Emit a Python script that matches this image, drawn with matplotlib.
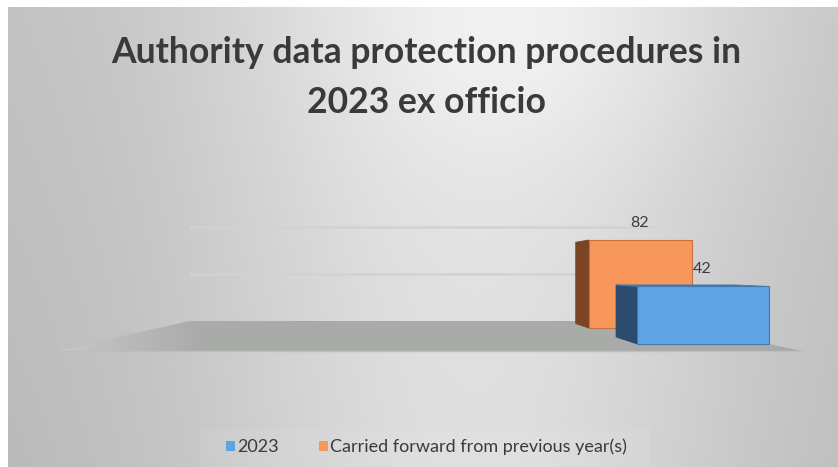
import matplotlib.pyplot as plt
import numpy as np
from matplotlib.patches import Polygon, Rectangle

TITLE = "Authority data protection procedures in\n2023 ex officio"
SERIES = ["2023", "Carried forward from previous year(s)"]
VALUES = [42, 82]
FRONT_COLORS = ["#5ea3e2", "#f7975b"]
SIDE_COLORS = ["#2b4c6f", "#7b4423"]
EDGE_COLORS = ["#3f79b0", "#c8703a"]
GRID_VALUES = [50, 100]

W, H = 838, 467

# simple perspective scene: x to the right, y up (eye level = 0), z away from viewer
FOCAL = 1000.0
CENTER_X, HORIZON_Y = 414.0, 270.0
FLOOR_Y = -0.058
VALUE_UNIT = 0.001073
BAR_X = (0.175, 0.278)
BAR_DEPTH = 0.082
SERIES_Z = [0.784, 1.0]  # front face of each series; 2023 sits in front
FLOOR_X = (-0.256, 0.278)
FLOOR_Z = (0.716, 1.137)


def project(x, y, z):
    return CENTER_X + FOCAL * x / z, HORIZON_Y - FOCAL * y / z


def level(v):
    return FLOOR_Y + v * VALUE_UNIT


def face(points, **kw):
    return Polygon([project(*p) for p in points], closed=True, **kw)


fig = plt.figure(figsize=(W / 100, H / 100), dpi=100, facecolor="white")
ax = fig.add_axes([0, 0, 1, 1])
ax.set_xlim(0, W)
ax.set_ylim(H, 0)
ax.axis("off")

# chart area background
xx, yy = np.meshgrid(np.arange(W), np.arange(H))
bg = (0.75
      + 0.15 * np.exp(-((xx - 470) / 300.0) ** 2)
      + 0.05 * np.exp(-((xx - 540) / 220.0) ** 2 - ((yy - 30) / 140.0) ** 2)
      - 0.03 * yy / H)
bg = np.clip(bg, 0, 1)
ax.imshow(np.dstack([bg * 0.995, bg, bg * 0.995]), extent=[8, W, H, 7],
          interpolation="bilinear", zorder=0)

# faint legend box
ax.add_patch(Rectangle((200, 430), 450, 40, facecolor="white", alpha=0.07,
                       edgecolor="none", zorder=1))

# gridlines on the back wall
zb = FLOOR_Z[1]
for gv in GRID_VALUES:
    x0, y0 = project(FLOOR_X[0], level(gv), zb)
    x1, y1 = project(FLOOR_X[1], level(gv), zb)
    ax.plot([x0, x1], [y0, y1], color="#d2d2d2", lw=1.8, zorder=2,
            solid_capstyle="butt")

# floor
floor = face([(FLOOR_X[0], FLOOR_Y, FLOOR_Z[0]), (FLOOR_X[1], FLOOR_Y, FLOOR_Z[0]),
              (FLOOR_X[1], FLOOR_Y, FLOOR_Z[1]), (FLOOR_X[0], FLOOR_Y, FLOOR_Z[1])],
             facecolor="none", edgecolor="none")
ax.add_patch(floor)
fx = np.linspace(0, W, 400)
fshade = 0.665 + 0.12 * np.clip((200 - fx) / 150.0, 0, 1)
fimg = np.tile(fshade, (2, 1))
im = ax.imshow(np.dstack([fimg, fimg * 1.01, fimg]).clip(0, 1),
               extent=[0, W, 360, 310], interpolation="bilinear", zorder=3)
im.set_clip_path(floor)
xa, ya = project(FLOOR_X[0], FLOOR_Y, FLOOR_Z[0])
xb, yb = project(FLOOR_X[1], FLOOR_Y, FLOOR_Z[0])
ax.plot([xa, xb], [ya, yb], color="#bdbdbd", lw=1.0, zorder=3)

# bars, drawn back to front
order = sorted(range(len(VALUES)), key=lambda i: -SERIES_Z[i])
for i in order:
    z0, z1 = SERIES_Z[i], SERIES_Z[i] + BAR_DEPTH
    xl, xr = BAR_X
    yb_, yt = FLOOR_Y, level(VALUES[i])
    ax.add_patch(face([(xl, yb_, z0), (xl, yt, z0), (xl, yt, z1), (xl, yb_, z1)],
                      facecolor=SIDE_COLORS[i], edgecolor=SIDE_COLORS[i], lw=0.6,
                      zorder=4))
    if yt < 0:
        ax.add_patch(face([(xl, yt, z0), (xr, yt, z0), (xr, yt, z1), (xl, yt, z1)],
                          facecolor=EDGE_COLORS[i], edgecolor=EDGE_COLORS[i],
                          lw=0.6, zorder=4))
    ax.add_patch(face([(xl, yb_, z0), (xr, yb_, z0), (xr, yt, z0), (xl, yt, z0)],
                      facecolor=FRONT_COLORS[i], edgecolor=EDGE_COLORS[i], lw=0.8,
                      zorder=4))
    lx, ly = project((xl + xr) / 2, yt, z0)
    ax.text(lx - 1, ly - 13, str(VALUES[i]), ha="center", va="baseline",
            fontsize=11.5, color="#3a3a3a", family="Lato", zorder=5)

# title
line1, line2 = TITLE.split("\n")
ax.text(426, 63, line1, ha="center", va="baseline", fontsize=25.6,
        fontweight="bold", color="#3a3a3a", family="Lato", zorder=5)
ax.text(426, 113, line2, ha="center", va="baseline", fontsize=25.6,
        fontweight="bold", color="#3a3a3a", family="Lato", zorder=5)

# legend
lx = 226
for name, col in zip(SERIES, FRONT_COLORS):
    ax.add_patch(Rectangle((lx, 441), 9, 10, facecolor=col, edgecolor="none",
                           zorder=5))
    t = ax.text(lx + 11, 452, name, ha="left", va="baseline", fontsize=13.0,
                color="#3a3a3a", family="Lato", zorder=5)
    fig.canvas.draw()
    bb = t.get_window_extent()
    lx = bb.x1 + 40

fig.savefig("out.png", dpi=100, facecolor="white")
